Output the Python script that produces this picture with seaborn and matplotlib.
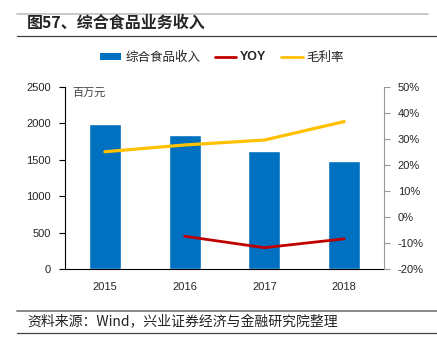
import numpy as np
import pandas as pd
import matplotlib
matplotlib.use("Agg")
import matplotlib.pyplot as plt
from matplotlib.lines import Line2D
from matplotlib.patches import Patch
import seaborn as sns

years = ["2015", "2016", "2017", "2018"]
revenue = [1990, 1845, 1625, 1490]
yoy = [np.nan, -7.4, -11.8, -8.4]
gross_margin = [25.1, 27.7, 29.6, 36.7]

title = "图57、综合食品业务收入"
source = "资料来源：Wind，兴业证券经济与金融研究院整理"
unit = "百万元"
legend_labels = ["综合食品收入", "YOY", "毛利率"]

sns.set_theme(style="white")
plt.rcParams['font.family'] = ['Liberation Sans', 'Noto Sans CJK SC', 'DejaVu Sans']
CJK = ['Noto Sans CJK SC', 'DejaVu Sans']

BLUE = "#0070C0"
RED = "#C00000"
YELLOW = "#FFC000"

df = pd.DataFrame({"year": years, "pos": np.arange(len(years)),
                   "revenue": revenue, "yoy": yoy, "gm": gross_margin})

fig = plt.figure(figsize=(4.37, 3.47), dpi=100)
ax = fig.add_axes([65/437, 1-269/347, 319/437, 182/347])
sns.barplot(data=df, x="pos", y="revenue", color=BLUE, width=0.4,
            saturation=1, ax=ax, native_scale=False)
ax.set_xlim(-0.5, len(years) - 0.5)
ax.set_ylim(0, 2500)
ax.set_yticks(np.arange(0, 2501, 500))
ax.set_xticks(np.arange(len(years)))
ax.set_xticklabels(years)
ax.set_xticks(np.arange(-0.5, len(years), 1), minor=True)
ax.tick_params(axis='x', which='major', length=0, pad=9, labelsize=8)
ax.tick_params(axis='x', which='minor', length=4, width=0.8, color='black', direction='out')
ax.tick_params(axis='y', length=4, width=0.8, color='black', direction='out', labelsize=8, pad=6, left=True)
ax.set_xlabel("")
ax.set_ylabel("")
for s in ["top", "right"]:
    ax.spines[s].set_visible(False)
ax.spines["left"].set_color("black")
ax.spines["bottom"].set_color("black")
ax.spines["left"].set_linewidth(0.8)
ax.spines["bottom"].set_linewidth(0.8)
ax.text(0.022, 0.995, unit, transform=ax.transAxes, ha='left', va='top',
        fontsize=8, color="#404040", family=CJK)

ax2 = ax.twinx()
sns.lineplot(data=df, x="pos", y="yoy", color=RED, linewidth=2.0, ax=ax2)
sns.lineplot(data=df, x="pos", y="gm", color=YELLOW, linewidth=2.3, ax=ax2)
ax2.set_ylim(-20, 50)
ax2.set_yticks(np.arange(-20, 51, 10))
ax2.set_yticklabels([f"{v}%" for v in range(-20, 51, 10)])
ax2.set_ylabel("")
ax2.set_xlabel("")
ax2.set_xlim(-0.5, len(years) - 0.5)
for s in ["top", "left", "bottom"]:
    ax2.spines[s].set_visible(False)
ax2.spines["right"].set_color("#999999")
ax2.spines["right"].set_linewidth(0.8)
ax2.tick_params(axis='y', length=4, width=0.8, color='#999999', direction='out', labelsize=8, pad=6, right=True)

handles = [Patch(facecolor=BLUE, edgecolor='none'),
           Line2D([], [], color=RED, linewidth=2.0),
           Line2D([], [], color=YELLOW, linewidth=2.0)]
leg = fig.legend(handles, legend_labels, loc='center', bbox_to_anchor=(222/437, 1-57/347),
                 ncol=3, frameon=False, handlelength=1.7, handleheight=0.5,
                 handletextpad=0.3, columnspacing=1.2, prop={'family': CJK, 'size': 9})
leg.get_texts()[1].set_fontweight('bold')
leg.get_texts()[1].set_family(['Liberation Sans'])

fig.text(27/437, 1-22/347, title, ha='left', va='center', fontsize=11.5,
         fontweight='bold', family=CJK)
fig.add_artist(Line2D([17/437, 428/437], [1-14/347, 1-14/347], color="#bfbfbf", linewidth=1.2))
fig.add_artist(Line2D([17/437, 1.0], [1-36/347, 1-36/347], color="#404040", linewidth=0.9))
fig.text(27/437, 1-322/347, source, ha='left', va='center', fontsize=10, family=CJK, color="#222222")
fig.add_artist(Line2D([17/437, 1.0], [1-311/347, 1-311/347], color="#808080", linewidth=1.3))
fig.add_artist(Line2D([17/437, 1.0], [1-333/347, 1-333/347], color="#404040", linewidth=0.9))

fig.savefig("out.png", dpi=100)
